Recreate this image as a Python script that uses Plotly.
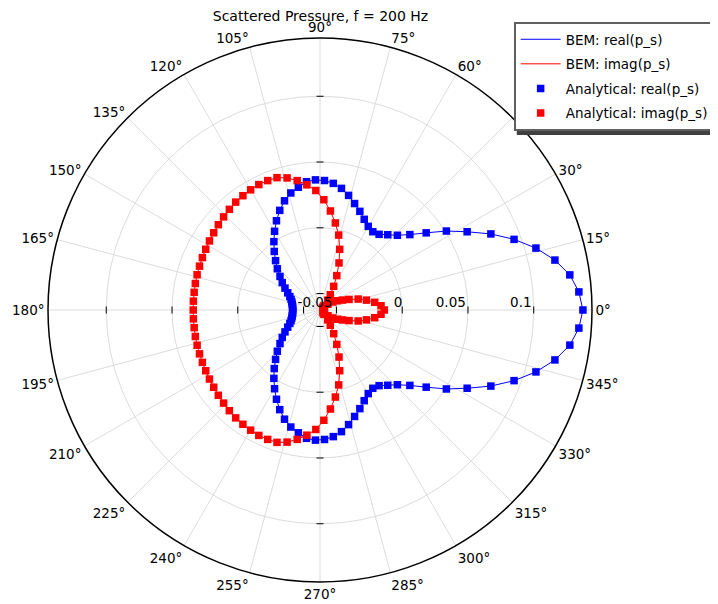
import plotly.graph_objects as go

# Angles (degrees), 4-degree sampling, closed loop
theta_deg = list(range(0, 361, 4))

# real(p_s) (0..360 deg)
real_ps = [
    0.1374, 0.1348, 0.1293, 0.1201, 0.1083, 0.0945, 0.0797, 0.0642, 0.0508, 0.0373,
    0.0267, 0.0193, 0.0145, 0.0105, 0.0093, 0.0109, 0.0142, 0.0184, 0.0226, 0.0273,
    0.0314, 0.0343, 0.0360, 0.0365, 0.0356, 0.0323, 0.0292, 0.0248, 0.0192, 0.0130,
    0.0066, 0.0002, -0.0060, -0.0120, -0.0174, -0.0228, -0.0270, -0.0311, -0.0347, -0.0374,
    -0.0391, -0.0402, -0.0409, -0.0414, -0.0417, -0.0417,
    -0.0417, -0.0414, -0.0409, -0.0402, -0.0391, -0.0374, -0.0347, -0.0311, -0.0270, -0.0228,
    -0.0174, -0.0120, -0.0060, 0.0002, 0.0066, 0.0130, 0.0192, 0.0248, 0.0292, 0.0323,
    0.0356, 0.0365, 0.0360, 0.0343, 0.0314, 0.0273, 0.0226, 0.0184, 0.0142, 0.0109,
    0.0093, 0.0105, 0.0145, 0.0193, 0.0267, 0.0373, 0.0508, 0.0642, 0.0797, 0.0945,
    0.1083, 0.1201, 0.1293, 0.1348, 0.1374,
]

# imag(p_s) (0..360 deg)
imag_ps = [
    -0.0136, -0.0160, -0.0205, -0.0264, -0.0323, -0.0390, -0.0439, -0.0475, -0.0510, -0.0550,
    -0.0580, -0.0595, -0.0580, -0.0530, -0.0485, -0.0417, -0.0334, -0.0239, -0.0140, -0.0038,
    0.0047, 0.0132, 0.0214, 0.0284, 0.0332, 0.0374, 0.0410, 0.0433, 0.0436, 0.0436,
    0.0430, 0.0423, 0.0416, 0.0405, 0.0394, 0.0384, 0.0374, 0.0366, 0.0359, 0.0354,
    0.0350, 0.0347, 0.0344, 0.0341, 0.0340, 0.0339,
    0.0340, 0.0341, 0.0344, 0.0347, 0.0350, 0.0354, 0.0359, 0.0366, 0.0374, 0.0384,
    0.0394, 0.0405, 0.0416, 0.0423, 0.0430, 0.0436, 0.0436, 0.0433, 0.0410, 0.0374,
    0.0332, 0.0284, 0.0214, 0.0132, 0.0047, -0.0038, -0.0140, -0.0239, -0.0334, -0.0417,
    -0.0485, -0.0530, -0.0580, -0.0595, -0.0580, -0.0550, -0.0510, -0.0475, -0.0439, -0.0390,
    -0.0323, -0.0264, -0.0205, -0.0160, -0.0136,
]

radial_tickvals = [-0.05, 0, 0.05, 0.1, 0.15]
radial_labels = ["-0.05", "0", "0.05", "0.1", ""]
radial_range = [-0.0625, 0.1443]

FONT = "DejaVu Sans"
NB = "\u00a0"
# pad labels so that they end at their tick (right-aligned, as in the reference)
radial_ticktext = [t + NB * (2 * len(t)) if t else t for t in radial_labels]

fig = go.Figure()

series = [
    ("BEM: real(p_s)", real_ps, "#0000ff", "lines"),
    ("BEM: imag(p_s)", imag_ps, "#ff0000", "lines"),
    ("Analytical: real(p_s)", real_ps, "#0000ff", "markers"),
    ("Analytical: imag(p_s)", imag_ps, "#ff0000", "markers"),
]
for i, (name, vals, col, mode) in enumerate(series):
    if mode == "lines":
        fig.add_trace(go.Scatterpolar(
            r=vals, theta=theta_deg, mode="lines", name=name, legendgroup=f"g{i}",
            line=dict(color=col, width=1),
        ))
    else:
        fig.add_trace(go.Scatterpolar(
            r=vals[:-1], theta=theta_deg[:-1], mode="markers", name=name, legendgroup=f"g{i}",
            marker=dict(color=col, symbol="square", size=7.5),
        ))

# small tick marks on the four principal axes
tick_r = [v for v in radial_tickvals if radial_range[0] < v < radial_range[1]]
for ang, sym in [(0, "line-ns"), (90, "line-ew"), (180, "line-ns"), (270, "line-ew")]:
    fig.add_trace(go.Scatterpolar(
        r=tick_r, theta=[ang] * len(tick_r), mode="markers", showlegend=False,
        hoverinfo="skip",
        marker=dict(symbol=sym, size=5, color="black", line=dict(color="black", width=1)),
    ))

# page is offset by the browser's default 8px body margin
OFF = 8
W, H = 718, 604
RPX = 273            # polar radius in pixels
CX, CY = 320.5, 310  # polar centre on the page
ml, mt = CX - RPX - OFF, CY - RPX - OFF
pw = ph = 2 * RPX
mr = W - ml - pw
mb = H - mt - ph


def px_to_paper(x, y):
    return (x - OFF - ml) / pw, (mt + ph - (y - OFF)) / ph


lx, ly = px_to_paper(514, 22)
sx0, sy0 = px_to_paper(518, 26)
sx1, sy1 = px_to_paper(713, 135)
ty = 1 - (16 - OFF) / H

fig.update_layout(
    width=W, height=H,
    margin=dict(l=ml, r=mr, t=mt, b=mb, pad=0),
    paper_bgcolor="white",
    font=dict(family=FONT, size=13.5, color="black"),
    title=dict(text="Scattered Pressure, f = 200 Hz", x=(CX - OFF) / W, xref="container",
               xanchor="center", y=ty, yref="container", yanchor="middle",
               font=dict(family=FONT, size=14, color="black")),
    polar=dict(
        domain=dict(x=[0, 1], y=[0, 1]),
        bgcolor="white",
        radialaxis=dict(
            range=radial_range, angle=0, tickangle=0,
            tickmode="array", tickvals=radial_tickvals, ticktext=radial_ticktext,
            showline=False, ticks="", gridcolor="#dcdcdc", gridwidth=1,
            tickfont=dict(family=FONT, size=13.5, color="black"),
            side="counterclockwise",
        ),
        angularaxis=dict(
            rotation=0, direction="counterclockwise", tickmode="linear", tick0=0, dtick=15,
            ticksuffix="°", showline=True, linecolor="black", linewidth=1.5, ticks="",
            gridcolor="#dcdcdc", gridwidth=1,
            tickfont=dict(family=FONT, size=13.5, color="black"),
        ),
    ),
    legend=dict(
        x=lx, y=ly, xanchor="left", yanchor="top",
        bgcolor="white", bordercolor="#606060", borderwidth=2,
        font=dict(family=FONT, size=13.5, color="black"),
        tracegroupgap=4, itemwidth=40,
    ),
    shapes=[dict(type="rect", xref="paper", yref="paper", x0=sx0, y0=sy1, x1=sx1, y1=sy0,
                 fillcolor="#404040", line=dict(width=0), layer="above")],
)

fig.write_html("out.html")
